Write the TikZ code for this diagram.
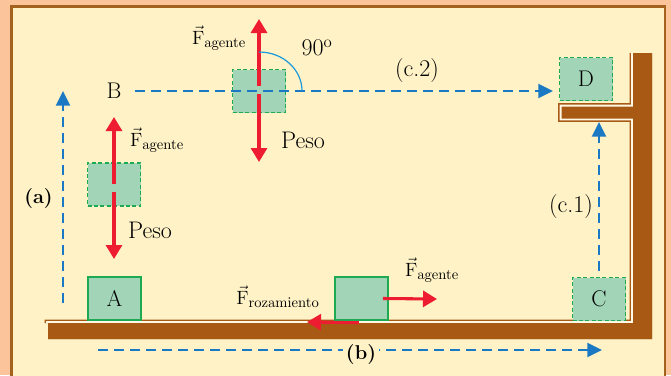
\documentclass[tikz,border=0pt]{standalone}
\usepackage{xcolor}
\usepackage{tikz}
\usetikzlibrary{arrows.meta, positioning, calc}

\definecolor{peach}{HTML}{FBC49B}
\definecolor{cream}{HTML}{FEF2C6}
\definecolor{frame}{HTML}{A3631F}
\definecolor{wood}{HTML}{A85A14}
\definecolor{gap}{HTML}{FFF9E6}
\definecolor{boxfill}{HTML}{A2D5B8}
\definecolor{boxline}{HTML}{1DAA52}
\definecolor{forcered}{HTML}{EE1C30}
\definecolor{trackblue}{HTML}{1B78C3}
\definecolor{angleblue}{HTML}{1B9BDD}

\begin{document}
\begin{tikzpicture}[x=0.75pt, y=-0.75pt,
    block/.style={draw=boxline, fill=boxfill, line width=1.1pt,
      minimum width=39.75pt, minimum height=32.25pt, inner sep=0pt,
      font=\fontsize{17}{20}\selectfont},
    ghost/.style={block, dash pattern=on 3pt off 1.8pt},
    force/.style={draw=forcered, line width=2.3pt, -{Triangle[length=10.5pt, width=12pt]}},
    move/.style={draw=trackblue, line width=1.5pt, dash pattern=on 7.5pt off 4.5pt,
      -{Triangle[length=11pt, width=10.5pt]}},
    lbl/.style={inner sep=0pt, font=\fontsize{18}{21}\selectfont},
    flbl/.style={inner sep=0pt, font=\fontsize{15}{18}\selectfont},
    woodpath/.style={insert path={({48-#1},{323-#1}) -- ({633-#1},{323-#1})
      -- ({633-#1},{118.5+#1}) -- ({561.5-#1},{118.5+#1}) -- ({561.5-#1},{106.5-#1})
      -- ({633-#1},{106.5-#1}) -- ({633-#1},53) -- (652,53) -- (652,339) -- (48,339)
      -- (48,323) -- ({48-#1},323) -- cycle}},
  ]
    \useasboundingbox (0,0) rectangle (671,375);
    % background and panel
    \fill[peach] (0,0) rectangle (671,375);
    \fill[cream] (11.5,6.7) rectangle (665,376);
    \draw[frame, line width=2.2pt] (11.5,376) -- (11.5,6.7) -- (665,6.7) -- (665,376);

    % floor, wall and shelf
    \fill[wood, woodpath=3.4];
    \fill[gap, woodpath=1.9];
    \fill[wood, woodpath=0];

    % blocks
    \node[block] (A) at (114.5,298.5) {A};
    \node[block] (M) at (361.5,298.5) {};
    \node[ghost] (C) at (599,299) {C};
    \node[ghost] (D) at (586,79) {D};
    \node[ghost] (G1) at (114,184.5) {};
    \node[ghost] (G2) at (259,91) {};

    % paths
    \coordinate (a0) at (63,303);
    \coordinate (a1) at (63,91);
    \coordinate (b0) at (98,350);
    \coordinate (b1) at (602,350);
    \coordinate (shelf) at (599,122);
    \coordinate (dstop) at (553,91);
    \node[block, draw=none, fill=none] (B) at (114,91) {B};
    \draw[move] ([xshift=-4.9pt]B.east) -- (dstop);
    \draw[move] (a0) -- (a1);
    \draw[move] (b0) -- (b1);
    \draw[move] ([yshift=4.5pt]C.north) -- (shelf);

    \node[flbl, font=\fontsize{15}{18}\selectfont\bfseries] (la) at (38.5,199) {(a)};
    \node[flbl, fill=cream, inner xsep=2pt, inner ysep=1pt,
      font=\fontsize{15}{18}\selectfont\bfseries] (lb) at (361,355) {(b)};
    \node[lbl] (lc2) at (417,71) {(c.2)};
    \node[lbl] (lc1) at (571,207) {(c.1)};

    % forces
    \coordinate (g1up) at (114,117);
    \coordinate (g1dn) at (114,259);
    \coordinate (g2up) at (259,19);
    \coordinate (g2dn) at (259,162);
    \coordinate (pull) at (437,299);
    \coordinate (rub) at (307,322);
    \draw[force] ([yshift=0.6pt]G1.center) -- (g1up);
    \draw[force] ([yshift=-5.4pt]G1.center) -- (g1dn);
    \draw[force] ([yshift=3.5pt]G2.center) -- (g2up);
    \draw[force] ([yshift=-2.3pt]G2.center) -- (g2dn);
    \draw[force] ([xshift=16pt]M.center) -- (pull);
    \draw[force] ([shift={(-1.9pt,-1.5pt)}]M.south) -- (rub);

    \node[flbl] (f1) at (157,140) {$\vec{\mathrm{F}}_{\mathrm{agente}}$};
    \node[flbl] (f2) at (219,38) {$\vec{\mathrm{F}}_{\mathrm{agente}}$};
    \node[flbl] (f3) at (432,270) {$\vec{\mathrm{F}}_{\mathrm{agente}}$};
    \node[flbl] (f4) at (278,297) {$\vec{\mathrm{F}}_{\mathrm{rozamiento}}$};
    \node[lbl] (p1) at (150,230) {Peso};
    \node[lbl] (p2) at (303,140) {Peso};

    % right angle mark
    \coordinate (arcend) at (302,91);
    \draw[angleblue, line width=0.9pt] (g2up |- 0,52) .. controls (283,52) and (302,69.5) .. (arcend);
    \node[lbl] (ang) at (317,48) {90\textsuperscript{o}};
\end{tikzpicture}
\end{document}
